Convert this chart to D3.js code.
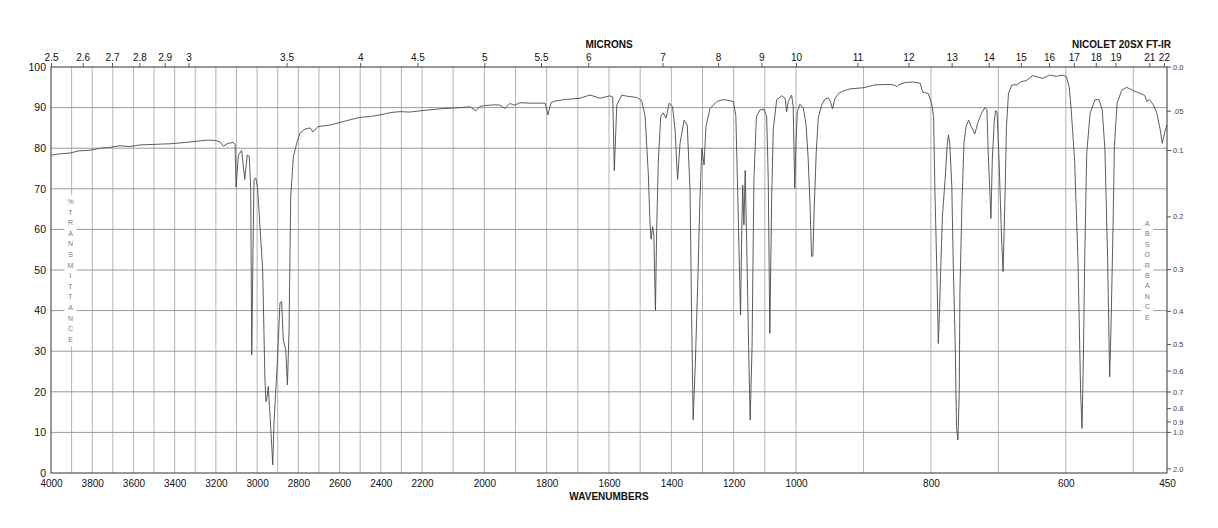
<!DOCTYPE html>
<html><head><meta charset="utf-8">
<script src="https://cdn.jsdelivr.net/npm/d3@7"></script>
<style>
html,body{margin:0;padding:0;background:#fff;}
svg{display:block;font-family:"Liberation Sans",Arial,Helvetica,sans-serif;}
</style></head>
<body>
<svg id="chart" width="1218" height="528"></svg>
<script>
// ---------- data ----------
const wavenumbers = [
4000,3960,3908,3870,3811,3760,3714,3665,3620,3568,3520,3471,3420,3374,3330,3277,3240,3204,3180,3164,3141,3117,3107,
3102,3091,3075,3060,3048,3038,3031,3026,3020,3015,3007,2998,2986,2973,2962,2957,2952,2946,2937,2924,2918,2902,2889,
2881,2873,2861,2853,2845,2837,2824,2808,2792,2768,2743,2729,2705,2646,2600,2549,2500,2450,2404,2350,2307,2260,2210,
2142,2078,2046,2027,2014,1998,1966,1950,1934,1918,1902,1886,1853,1805,1796,1786,1773,1741,1693,1661,1629,1597,1588,
1583,1575,1559,1543,1511,1495,1484,1474,1468,1465,1460,1456,1451,1447,1442,1434,1426,1417,1407,1396,1388,1380,1372,
1359,1349,1340,1335,1330,1323,1315,1308,1302,1295,1289,1276,1254,1233,1201,1193,1185,1178,1174,1171,1167,1163,1158,
1152,1147,1141,1135,1127,1116,1103,1094,1089,1084,1078,1073,1062,1046,1035,1030,1025,1014,1009,1004,1000,
998,994,989,985,982,979,977,975,973,970,967,962,957,952,949,946,942,937,930,920,900,883,861,853,851,848,838,826,816,
812,804,799,796,794,791,789,788,785,783,779,776,774,772,769,767,764,762,760,758,757,754,751,748,744,740,735,730,725,
720,717,715,711,709,706,704,702,699,695,693,690,688,685,680,673,666,659,649,641,634,624,614,604,599,595,592,587,582,
578,576,574,572,569,564,557,551,546,542,538,535,533,530,528,524,517,510,500,490,483,480,476,470,465,460,457,453,450
];
const transmittance = [
78.3,78.6,78.8,79.3,79.5,80.0,80.2,80.6,80.4,80.8,80.9,81.0,81.1,81.3,81.5,81.8,82.0,81.9,81.6,80.5,81.2,81.4,81.0,
70.4,78.3,79.4,72.3,78.3,78.0,70.0,29.1,55.0,72.2,72.7,70.5,60.7,50.0,22.9,17.6,18.5,21.3,13.9,2.0,12.3,27.1,41.9,
42.2,32.8,30.3,21.7,35.2,68.0,77.9,81.2,83.7,84.7,85.0,84.0,85.3,85.7,86.3,87.0,87.6,87.8,88.2,88.8,89.0,88.9,89.2,
89.7,90.0,90.2,89.2,90.3,90.5,90.7,90.6,89.8,91.0,90.6,91.2,91.1,91.1,88.2,91.2,91.6,92.0,92.3,93.1,92.3,92.9,92.6,
74.5,90.6,93.1,92.8,92.5,91.7,87.8,73.8,60.7,57.6,60.7,58.5,40.1,59.9,76.3,87.8,88.7,87.4,91.1,90.2,84.5,72.3,81.2,
86.9,85.7,69.7,39.3,13.1,27.0,47.5,68.0,80.0,75.9,85.3,89.8,91.5,92.0,91.5,88.0,62.3,38.9,59.9,70.9,61.1,74.5,55.7,
31.1,13.1,31.1,72.2,87.8,89.4,89.6,87.8,72.2,34.4,68.0,84.5,91.9,92.9,92.3,89.0,91.5,93.1,90.2,70.1,81.6,
89.0,90.8,89.8,85.7,77.5,65.2,53.3,53.5,65.2,79.1,87.4,90.6,92.1,92.4,91.5,89.7,92.3,93.5,94.1,94.6,94.9,95.6,95.7,95.5,95.1,95.6,96.2,96.3,96.0,
93.8,93.5,91.1,87.8,68.9,48.4,31.9,36.0,52.5,63.1,72.2,80.4,83.3,81.2,70.5,52.5,31.9,11.4,8.1,19.6,44.3,66.4,81.2,85.3,86.9,85.3,83.5,86.5,88.6,
90.0,89.5,78.7,62.7,77.1,86.9,89.2,89.0,77.1,56.6,49.6,68.9,85.3,93.5,95.6,95.6,96.4,96.6,97.9,97.5,97.2,98.0,97.7,98.0,97.6,95.1,89.4,77.1,52.5,
19.6,11.0,27.8,52.5,78.7,88.6,91.9,92.0,89.4,79.6,52.5,23.7,36.0,60.7,80.4,91.1,94.3,95.0,94.2,93.5,93.0,91.5,92.0,90.6,88.6,84.5,81.2,84.1,85.7
];
const wavenumberTicks = [4000,3800,3600,3400,3200,3000,2800,2600,2400,2200,2000,1800,1600,1400,1200,1000,800,600,450];
const micronTicks = [2.5,2.6,2.7,2.8,2.9,3,3.5,4,4.5,5,5.5,6,7,8,9,10,11,12,13,14,15,16,17,18,19,21,22];
const transmittanceTicks = [0,10,20,30,40,50,60,70,80,90,100];
const absorbanceTicks = [0.0,0.05,0.1,0.2,0.3,0.4,0.5,0.6,0.7,0.8,0.9,1.0,2.0];
const absorbanceLabels = ["0.0",".05","0.1","0.2","0.3","0.4","0.5","0.6","0.7","0.8","0.9","1.0","2.0"];
const gridWavenumbers = d3.range(3900, 450, -100);
const gridTransmittance = [10,20,30,40,50,60,70,80,90];

(function(){
// ---------- scales ----------
const x = d3.scaleLinear().domain([4000,2200,1000,450]).range([51,422,796,1167]);
const y = d3.scaleLinear().domain([0,100]).range([473,67]);

const svg = d3.select("#chart");
const L = 51, R = 1167, T = 67, B = 473;

// grid
svg.append("g").selectAll("line").data(gridWavenumbers).join("line")
  .attr("x1", d=>x(d)).attr("x2", d=>x(d)).attr("y1", T).attr("y2", B)
  .attr("stroke", "#b4b4b4").attr("stroke-width", 1);
svg.append("g").selectAll("line").data(gridTransmittance).join("line")
  .attr("x1", L).attr("x2", R).attr("y1", d=>y(d)).attr("y2", d=>y(d))
  .attr("stroke", "#9a9a9a").attr("stroke-width", 1);

// vertical letter labels with white background
function vertLabel(text, cx, y0, step){
  const chars = text.split("");
  svg.append("rect").attr("x", cx-6).attr("y", y0-7).attr("width", 12)
     .attr("height", step*(chars.length-1)+14).attr("fill", "#fff");
  svg.append("g").selectAll("text").data(chars).join("text")
    .attr("x", cx).attr("y", (d,i)=>y0 + i*step).attr("dy","0.35em")
    .attr("text-anchor","middle").attr("font-size", 7).attr("fill","#7a7a7a")
    .text(d=>d);
}
vertLabel("%TRANSMITTANCE", 70.5, 201.7, 10.58);
vertLabel("ABSORBANCE", 1147.3, 223.3, 10.44);

// spectrum
const line = d3.line().x(d=>x(d[0])).y(d=>y(d[1])).curve(d3.curveLinear);
svg.append("path").datum(wavenumbers.map((w,i)=>[w, transmittance[i]]))
  .attr("d", line).attr("fill","none").attr("stroke","#4a4a4a").attr("stroke-width",0.9)
  .attr("stroke-linejoin","round");

// frame
svg.append("rect").attr("x", L).attr("y", T).attr("width", R-L).attr("height", B-T)
  .attr("fill","none").attr("stroke","#333").attr("stroke-width",1);

const fontFam = "Liberation Sans, Arial, sans-serif";

// bottom axis
const gB = svg.append("g").attr("transform", `translate(0,${B})`)
  .call(d3.axisBottom(x).tickValues(wavenumberTicks).tickSize(0).tickPadding(7).tickFormat(d3.format("d")));
gB.select(".domain").remove();
gB.selectAll("text").attr("font-size",10).attr("fill","#111").attr("font-family",fontFam);

// top axis (microns)
const gT = svg.append("g").attr("transform", `translate(0,${T})`)
  .call(d3.axisTop(x).tickValues(micronTicks.map(m=>10000/m)).tickSize(4).tickPadding(2)
    .tickFormat((d,i)=>String(micronTicks[i])));
gT.select(".domain").remove();
gT.selectAll("line").attr("stroke","#555");
gT.selectAll("text").attr("font-size",10).attr("fill","#111").attr("font-family",fontFam);

// left axis
const gL = svg.append("g").attr("transform", `translate(${L},0)`)
  .call(d3.axisLeft(y).tickValues(transmittanceTicks).tickSize(0).tickPadding(5).tickFormat(d3.format("d")));
gL.select(".domain").remove();
gL.selectAll("text").attr("font-size",10.5).attr("fill","#111").attr("font-family",fontFam);

// right axis (absorbance)
const gR = svg.append("g").attr("transform", `translate(${R},0)`);
gR.selectAll("line").data(absorbanceTicks).join("line")
  .attr("x1",0).attr("x2",4).attr("y1", d=>y(100*Math.pow(10,-d))).attr("y2", d=>y(100*Math.pow(10,-d)))
  .attr("stroke","#555");
gR.selectAll("text").data(absorbanceTicks).join("text")
  .attr("x",6).attr("y", d=>y(100*Math.pow(10,-d))).attr("dy","0.35em")
  .attr("font-size",7.5).attr("fill","#444").text((d,i)=>absorbanceLabels[i]);

// titles
svg.append("text").attr("x",609).attr("y",47.5).attr("text-anchor","middle")
  .attr("font-size",10).attr("font-weight","bold").attr("fill","#111").text("MICRONS");
svg.append("text").attr("x",1171).attr("y",47.5).attr("text-anchor","end")
  .attr("font-size",10).attr("font-weight","bold").attr("fill","#111").text("NICOLET 20SX FT-IR");
svg.append("text").attr("x",609).attr("y",500).attr("text-anchor","middle")
  .attr("font-size",10).attr("font-weight","bold").attr("fill","#111").text("WAVENUMBERS");
})();
</script>
</body></html>
